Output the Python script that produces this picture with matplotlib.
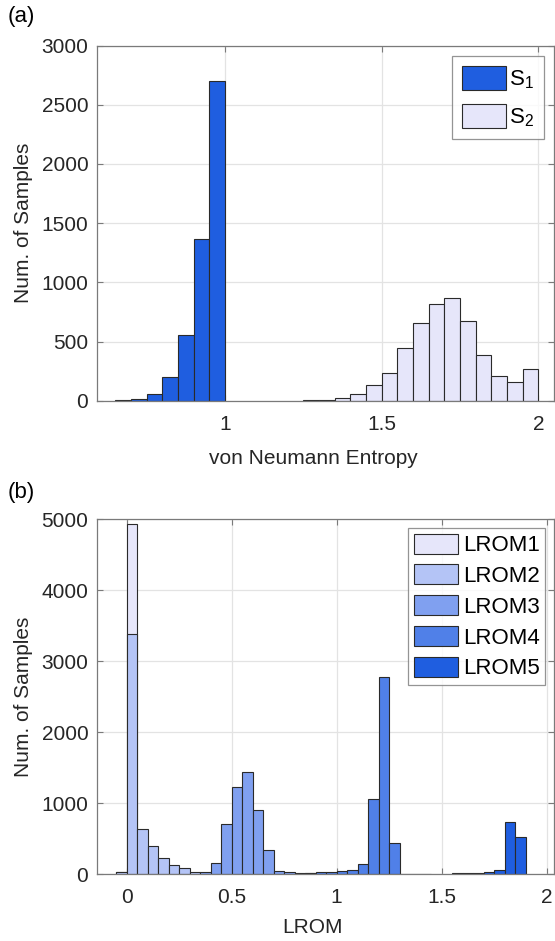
import numpy as np
import matplotlib
matplotlib.use("Agg")
import matplotlib.pyplot as plt

plt.rcParams['font.family'] = ['Liberation Sans', 'DejaVu Sans']
plt.rcParams['mathtext.fontset'] = 'custom'
plt.rcParams['mathtext.rm'] = 'Liberation Sans'
plt.rcParams['mathtext.it'] = 'Liberation Sans'

# ---- (a) von Neumann entropy histograms (bin width 0.05) ----
BIN_W = 0.05
s1_left = [0.65, 0.70, 0.75, 0.80, 0.85, 0.90, 0.95]
s1_counts = [5, 11, 56, 203, 555, 1366, 2701]

s2_left = [1.25, 1.30, 1.35, 1.40, 1.45, 1.50, 1.55, 1.60, 1.65, 1.70,
           1.75, 1.80, 1.85, 1.90, 1.95]
s2_counts = [3, 4, 26, 57, 134, 233, 449, 656, 815, 864,
             670, 386, 207, 159, 264]

# ---- (b) LROM histograms ----
lrom1_left = [-0.05, 0.00, 0.05]
lrom1_counts = [25, 4940, 35]

lrom2_left = [-0.05, 0.00, 0.05, 0.10, 0.15, 0.20, 0.25, 0.30, 0.35]
lrom2_counts = [30, 3380, 629, 394, 221, 122, 80, 28, 10]

lrom3_left = [0.35, 0.40, 0.45, 0.50, 0.55, 0.60, 0.65, 0.70, 0.75, 0.80, 0.85]
lrom3_counts = [28, 150, 704, 1225, 1432, 906, 333, 47, 23, 12, 8]

lrom4_left = [0.80, 0.85, 0.90, 0.95, 1.00, 1.05, 1.10, 1.15, 1.20, 1.25,
              1.30, 1.35, 1.40]
lrom4_counts = [5, 14, 33, 33, 42, 61, 146, 1061, 2783, 434, 2, 2, 2]

lrom5_left = [1.55, 1.60, 1.65, 1.70, 1.75, 1.80, 1.85]
lrom5_counts = [9, 10, 14, 24, 57, 726, 528]

C_S1 = '#1f5ee0'
C_S2 = '#e6e6fa'
LROM_COLORS = ['#e6e6fa', '#b4c4f6', '#80a0f0', '#5080e8', '#1f5ee0']
EDGE = '#2a2a2a'
AX_COL = '#262626'
FRAME = '#7a7a7a'

fig = plt.figure(figsize=(5.55, 9.41), dpi=100)
ax1 = fig.add_axes([0.1742, 0.5742, 0.8240, 0.3773])
ax2 = fig.add_axes([0.1742, 0.0712, 0.8240, 0.3770])


def style(ax):
    ax.set_axisbelow(True)
    ax.grid(True, color='#e3e3e3', linewidth=0.9)
    for sp in ax.spines.values():
        sp.set_color(FRAME)
        sp.set_linewidth(0.9)
    ax.tick_params(direction='in', top=True, right=True, length=4,
                   width=0.8, color=FRAME, labelsize=15, labelcolor=AX_COL)
    ax.tick_params(axis='x', pad=10)
    ax.tick_params(axis='y', pad=6)


bar_kw = dict(width=BIN_W, align='edge', edgecolor=EDGE, linewidth=0.8)

ax1.bar(s1_left, s1_counts, color=C_S1, label=r'$\mathregular{S_1}$', **bar_kw)
ax1.bar(s2_left, s2_counts, color=C_S2, label=r'$\mathregular{S_2}$', **bar_kw)
style(ax1)
ax1.set_xlim(0.59, 2.05)
ax1.set_ylim(0, 3000)
ax1.set_xticks([1, 1.5, 2])
ax1.set_xticklabels(['1', '1.5', '2'])
ax1.set_yticks(np.arange(0, 3001, 500))
ax1.set_xlabel('von Neumann Entropy', fontsize=15, color=AX_COL)
ax1.xaxis.set_label_coords(0.473, -0.135)
ax1.set_ylabel('Num. of Samples', fontsize=15, color=AX_COL, labelpad=6)
leg1 = ax1.legend(loc='upper right', fontsize=16, frameon=True, fancybox=False,
                  edgecolor=FRAME, handlelength=1.95, handleheight=1.3,
                  handletextpad=0.15, labelspacing=0.6, borderpad=0.45,
                  borderaxespad=0.45)
leg1.get_frame().set_linewidth(0.9)

series = [(lrom1_left, lrom1_counts), (lrom2_left, lrom2_counts),
          (lrom3_left, lrom3_counts), (lrom4_left, lrom4_counts),
          (lrom5_left, lrom5_counts)]
for i, (left, counts) in enumerate(series):
    ax2.bar(left, counts, color=LROM_COLORS[i], label=f'LROM{i + 1}', **bar_kw)
style(ax2)
ax2.set_xlim(-0.143, 2.035)
ax2.set_ylim(0, 5000)
ax2.set_xticks([0, 0.5, 1, 1.5, 2])
ax2.set_xticklabels(['0', '0.5', '1', '1.5', '2'])
ax2.set_yticks(np.arange(0, 5001, 1000))
ax2.set_xlabel('LROM', fontsize=15, color=AX_COL)
ax2.xaxis.set_label_coords(0.473, -0.125)
ax2.set_ylabel('Num. of Samples', fontsize=15, color=AX_COL, labelpad=6)
leg2 = ax2.legend(loc='upper right', fontsize=16, frameon=True, fancybox=False,
                  edgecolor=FRAME, handlelength=2.0, handleheight=1.0,
                  handletextpad=0.2, labelspacing=0.37, borderpad=0.25,
                  borderaxespad=0.4)
leg2.get_frame().set_linewidth(0.9)

fig.text(8 / 555, 1 - 6 / 941, '(a)', fontsize=16, color='black', va='top', ha='left')
fig.text(8 / 555, 1 - 482 / 941, '(b)', fontsize=16, color='black', va='top', ha='left')

fig.savefig('out.png', dpi=100)
